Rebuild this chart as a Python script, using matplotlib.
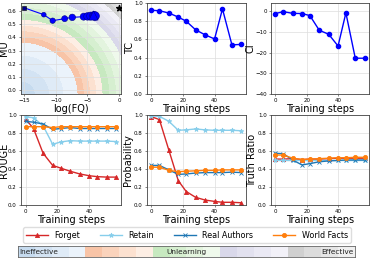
import numpy as np
import matplotlib
matplotlib.use("Agg")
import matplotlib.pyplot as plt
from matplotlib.colors import ListedColormap
from matplotlib.lines import Line2D

# ---------------- data ----------------
steps = [0, 5, 11, 17, 22, 28, 34, 40, 45, 51, 57]

log_fq = [-15.0, -11.9, -10.5, -8.6, -7.4, -5.6, -5.0, -4.5, -4.0, -3.8, -4.2]
mu = [0.622, 0.57, 0.525, 0.54, 0.55, 0.555, 0.557, 0.56, 0.562, 0.56, 0.566]
ref_log_fq = 0.0
ref_mu = 0.623

tc = [0.92, 0.915, 0.89, 0.845, 0.80, 0.705, 0.65, 0.605, 0.935, 0.54, 0.545]
ci = [-1.1, -0.2, -1.0, -1.1, -2.1, -9.2, -11.1, -16.8, -0.8, -22.7, -22.7]

rouge_forget = [0.955, 0.85, 0.575, 0.44, 0.41, 0.375, 0.345, 0.325, 0.315, 0.31, 0.31]
rouge_retain = [0.98, 0.97, 0.88, 0.675, 0.70, 0.715, 0.71, 0.71, 0.71, 0.71, 0.705]
rouge_real = [0.93, 0.92, 0.90, 0.84, 0.85, 0.86, 0.85, 0.85, 0.85, 0.85, 0.85]
rouge_world = [0.87, 0.87, 0.87, 0.86, 0.87, 0.87, 0.87, 0.87, 0.87, 0.87, 0.87]

prob_forget = [0.98, 0.95, 0.61, 0.27, 0.15, 0.085, 0.055, 0.04, 0.03, 0.03, 0.025]
prob_retain = [0.99, 0.985, 0.93, 0.83, 0.835, 0.845, 0.835, 0.83, 0.83, 0.83, 0.825]
prob_real = [0.44, 0.44, 0.39, 0.34, 0.345, 0.355, 0.36, 0.36, 0.36, 0.365, 0.36]
prob_world = [0.42, 0.42, 0.385, 0.37, 0.375, 0.38, 0.385, 0.385, 0.39, 0.39, 0.39]

tr_forget = [0.51, 0.51, 0.515, 0.505, 0.51, 0.51, 0.515, 0.52, 0.52, 0.52, 0.52]
tr_retain = [0.495, 0.495, 0.495, 0.495, 0.495, 0.495, 0.495, 0.495, 0.495, 0.495, 0.495]
tr_real = [0.575, 0.57, 0.50, 0.445, 0.46, 0.48, 0.49, 0.495, 0.50, 0.50, 0.50]
tr_world = [0.555, 0.555, 0.52, 0.505, 0.51, 0.515, 0.52, 0.525, 0.525, 0.53, 0.53]

series_names = ["Forget", "Retain", "Real Authors", "World Facts"]
category_labels = ["Ineffective", "Unlearning", "Effective"]

# ---------------- style ----------------
colors = ["#d62728", "#87ceeb", "#1f77b4", "#ff7f0e"]
markers = ["^", "*", "x", "o"]
msizes = [3, 3.5, 3, 3]

band_colors = [
    "#c6dbef", "#d3e3f3", "#dfebf7", "#ebf3fb",   # blue
    "#f8c4a7", "#fad3bc", "#fce1d0", "#fdeee4",   # orange
    "#c7e9c0", "#d6efd0", "#e3f4de", "#eff9ec",   # green
    "#d9d8ea", "#e2e1ef", "#eae9f4", "#f2f1f8",   # purple
    "#d0d0d0", "#dcdcdc", "#e6e6e6", "#f0f0f0",   # gray
]
cat_edges = [0.0, 0.57, 0.82, 1.09, 1.30, 1.45]
levels = []
for i in range(5):
    a, b = cat_edges[i], cat_edges[i + 1]
    levels += list(np.linspace(a, b, 5)[:-1])
levels.append(cat_edges[-1])

TICK_FS = 4
LAB_FS = 7
GRID_KW = dict(color="#dddddd", linewidth=0.5)

plt.rcParams["font.family"] = "DejaVu Sans"
fig = plt.figure(figsize=(3.74, 2.60), dpi=100)


def style(ax):
    ax.tick_params(labelsize=TICK_FS, length=1.5, width=0.5, pad=1.5, color="#555555")
    for s in ax.spines.values():
        s.set_linewidth(0.6)
        s.set_color("#444444")
    ax.grid(True, **GRID_KW)
    ax.set_axisbelow(True)


W = 100 / 374
H_TOP = 91 / 260
H_BOT = 90 / 260
lefts = [21 / 374, 147 / 374, 271 / 374]
bot_top = 1 - 94 / 260
bot_bot = 1 - 205 / 260

ax_mu = fig.add_axes([lefts[0], bot_top, W, H_TOP])
ax_tc = fig.add_axes([lefts[1], bot_top, W - 0.003, H_TOP])
ax_ci = fig.add_axes([lefts[2], bot_top, W - 0.005, H_TOP])
ax_r = fig.add_axes([lefts[0], bot_bot, W, H_BOT])
ax_p = fig.add_axes([lefts[1], bot_bot, W - 0.003, H_BOT])
ax_t = fig.add_axes([lefts[2], bot_bot, W - 0.005, H_BOT])

# ---- MU vs log(FQ) ----
x0, x1 = -15.5, 0.3
y0, y1 = -0.027, 0.658
gx, gy = np.meshgrid(np.linspace(x0, x1, 300), np.linspace(y0, y1, 300))
u = (gx - x0) / (x1 - x0)
v = (gy - y0) / (y1 - y0)
score = np.sqrt(u ** 2 + v ** 2)
cmap = ListedColormap(band_colors)
ax_mu.contourf(gx, gy, score, levels=levels, colors=band_colors, zorder=0)
style(ax_mu)
ax_mu.grid(True, zorder=1, **GRID_KW)
ax_mu.plot(log_fq, mu, color="#0000ff", linewidth=0.8, zorder=3)
sizes = [8 + 3.5 * i for i in range(len(log_fq))]
ax_mu.scatter(log_fq[1:-1], mu[1:-1], s=sizes[1:-1], color="#0000ff",
              edgecolors="#00008b", linewidths=0.4, zorder=4)
ax_mu.scatter([log_fq[0]], [mu[0]], s=10, marker="s", color="#00008b",
              edgecolors="black", linewidths=0.4, zorder=5)
ax_mu.scatter([log_fq[-1]], [mu[-1]], s=sizes[-1], marker="^", color="#0000ff",
              edgecolors="#00008b", linewidths=0.4, zorder=5)
ax_mu.scatter([ref_log_fq], [ref_mu], s=18, marker="*", color="black", zorder=5)
ax_mu.set_xlim(x0, x1)
ax_mu.set_ylim(y0, y1)
ax_mu.set_xticks([-15, -10, -5, 0])
ax_mu.set_yticks([0.0, 0.1, 0.2, 0.3, 0.4, 0.5, 0.6])
ax_mu.set_xlabel("log(FQ)", fontsize=LAB_FS, labelpad=0.5)
ax_mu.set_ylabel("MU", fontsize=LAB_FS)
ax_mu.yaxis.set_label_coords(-0.12, 0.5)

# ---- TC / CI ----
for ax, vals, lab, lx in [(ax_tc, tc, "TC", -0.12), (ax_ci, ci, "CI", -0.16)]:
    style(ax)
    ax.plot(steps, vals, color="#0000ff", marker="o", markersize=3, linewidth=1)
    ax.set_xlabel("Training steps", fontsize=LAB_FS, labelpad=0.5)
    ax.set_ylabel(lab, fontsize=LAB_FS)
    ax.yaxis.set_label_coords(lx, 0.5)
    ax.set_xticks([0, 20, 40])
ax_tc.set_ylim(0, 1.0)
ax_tc.set_yticks([0.0, 0.2, 0.4, 0.6, 0.8, 1.0])
ax_ci.set_ylim(-40, 4)
ax_ci.set_yticks([0, -10, -20, -30, -40])

# ---- bottom row ----
bottom = [
    (ax_r, [rouge_forget, rouge_retain, rouge_real, rouge_world], "ROUGE", -0.12),
    (ax_p, [prob_forget, prob_retain, prob_real, prob_world], "Probability", -0.14),
    (ax_t, [tr_forget, tr_retain, tr_real, tr_world], "Truth Ratio", -0.145),
]
for ax, data, lab, lx in bottom:
    style(ax)
    for vals, c, m, ms, name in zip(data, colors, markers, msizes, series_names):
        ax.plot(steps, vals, color=c, marker=m, markersize=ms, linewidth=1,
                markeredgewidth=0.6, label=name)
    ax.set_ylim(0, 1.0)
    ax.set_yticks([0.0, 0.2, 0.4, 0.6, 0.8, 1.0])
    ax.set_xticks([0, 20, 40])
    ax.set_xlabel("Training steps", fontsize=LAB_FS, labelpad=0.5)
    ax.set_ylabel(lab, fontsize=LAB_FS)
    ax.yaxis.set_label_coords(lx, 0.5)

handles = [Line2D([], [], color=c, marker=m, markersize=ms, linewidth=1, markeredgewidth=0.6)
           for c, m, ms in zip(colors, markers, msizes)]
fig.legend(handles, series_names, loc="center", bbox_to_anchor=(0.5, 1 - 235 / 260),
           ncol=4, fontsize=5.8, frameon=True, handlelength=2.7, columnspacing=2.5,
           borderpad=0.4, handletextpad=0.8, fancybox=True, edgecolor="#dddddd",
           framealpha=1)

# ---- colour strip ----
cax = fig.add_axes([18 / 374, 1 - 257 / 260, 337 / 374, 11 / 260])
cax.imshow(np.arange(len(band_colors))[None, :], cmap=cmap, aspect="auto",
           extent=(0, len(band_colors), 0, 1))
cax.set_xticks([])
cax.set_yticks([])
for s in cax.spines.values():
    s.set_linewidth(0.6)
    s.set_color("#666666")
cax.text(0.1, 0.45, category_labels[0], fontsize=5.3, ha="left", va="center", color="#222222")
cax.text(10.0, 0.45, category_labels[1], fontsize=5.3, ha="center", va="center", color="#222222")
cax.text(19.9, 0.45, category_labels[2], fontsize=5.3, ha="right", va="center", color="#222222")

fig.savefig("out.png", dpi=100)
